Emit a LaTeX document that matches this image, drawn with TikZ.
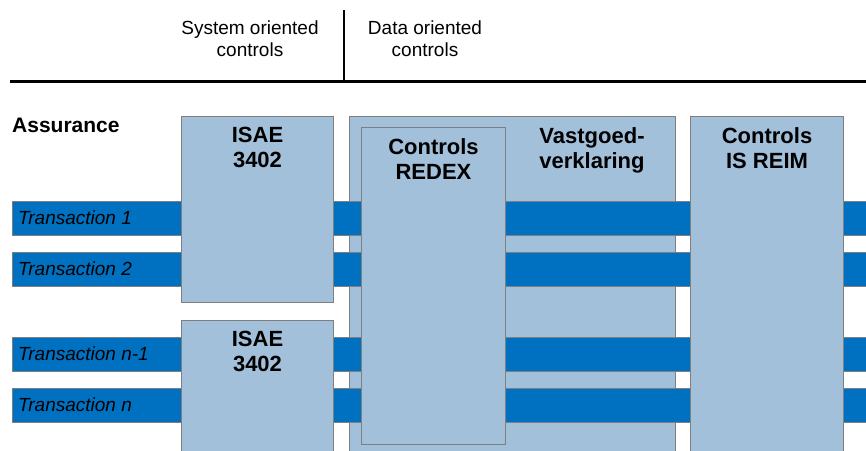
\documentclass[tikz,border=0pt]{standalone}
\usepackage{fontspec}
\setmainfont{Liberation Sans}
\usetikzlibrary{positioning}
\definecolor{boxblue}{HTML}{A3C0DA}
\definecolor{barblue}{HTML}{0070C0}
\definecolor{edgegray}{HTML}{7F7F7F}
\tikzset{
  ctrlbox/.style={draw=edgegray, fill=boxblue, line width=1pt, anchor=north west, inner sep=0pt},
  txbar/.style={draw=edgegray, fill=barblue, line width=1pt, anchor=west, inner sep=0pt, minimum width=880pt, minimum height=34pt},
  txlabel/.style={font=\itshape\fontsize{19}{22}\selectfont, inner sep=0pt},
  boxtext/.style={font=\bfseries\fontsize{22}{25}\selectfont, align=center, anchor=north, inner sep=0pt},
  headtext/.style={font=\fontsize{19}{22}\selectfont, align=center, inner sep=0pt}
}
\begin{document}
\begin{tikzpicture}[x=1pt, y=-1pt]
\clip (0,0) rectangle (866,450);
\fill[white] (0,0) rectangle (866,450);
\node[headtext] (sysctrl) at (250,39) {System oriented\\controls};
\node[headtext] (datactrl) at (425,39) {Data oriented\\controls};
\draw[line width=1.3pt] (344,10) -- (344,80);
\draw[line width=3pt] (10,81) -- (866,81);
\node[font=\bfseries\fontsize{21}{24}\selectfont, anchor=west, inner sep=0pt] (assurance) at (12,125) {Assurance};
\node[ctrlbox, minimum width=326pt, minimum height=360pt] (vastgoed) at (349,116) {};
\node[txbar] (tx1) at (12,218) {};
\node[txbar] (tx2) at (12,269) {};
\node[txbar] (txn1) at (12,354) {};
\node[txbar] (txn) at (12,405) {};
\node[txlabel, right=6pt of tx1.west] (tx1lbl) {Transaction 1};
\node[txlabel, right=6pt of tx2.west] (tx2lbl) {Transaction 2};
\node[txlabel, right=6pt of txn1.west] (txn1lbl) {Transaction n-1};
\node[txlabel, right=6pt of txn.west] (txnlbl) {Transaction n};
\node[ctrlbox, minimum width=152pt, minimum height=186pt] (isaeA) at (181,116) {};
\node[ctrlbox, minimum width=152pt, minimum height=200pt] (isaeB) at (181,320) {};
\node[ctrlbox, minimum width=144pt, minimum height=317pt] (redex) at (361,127) {};
\node[ctrlbox, minimum width=153pt, minimum height=360pt] (reim) at (690,116) {};
\node[boxtext, below=11pt of isaeA.north] (isaeAtxt) {ISAE\\3402};
\node[boxtext, below=11pt of isaeB.north] (isaeBtxt) {ISAE\\3402};
\node[boxtext, below=11pt of redex.north] (redextxt) {Controls\\REDEX};
\node[boxtext] (vastgoedtxt) at (592,127) {Vastgoed-\\verklaring};
\node[boxtext, below=11pt of reim.north] (reimtxt) {Controls\\IS REIM};
\end{tikzpicture}
\end{document}
